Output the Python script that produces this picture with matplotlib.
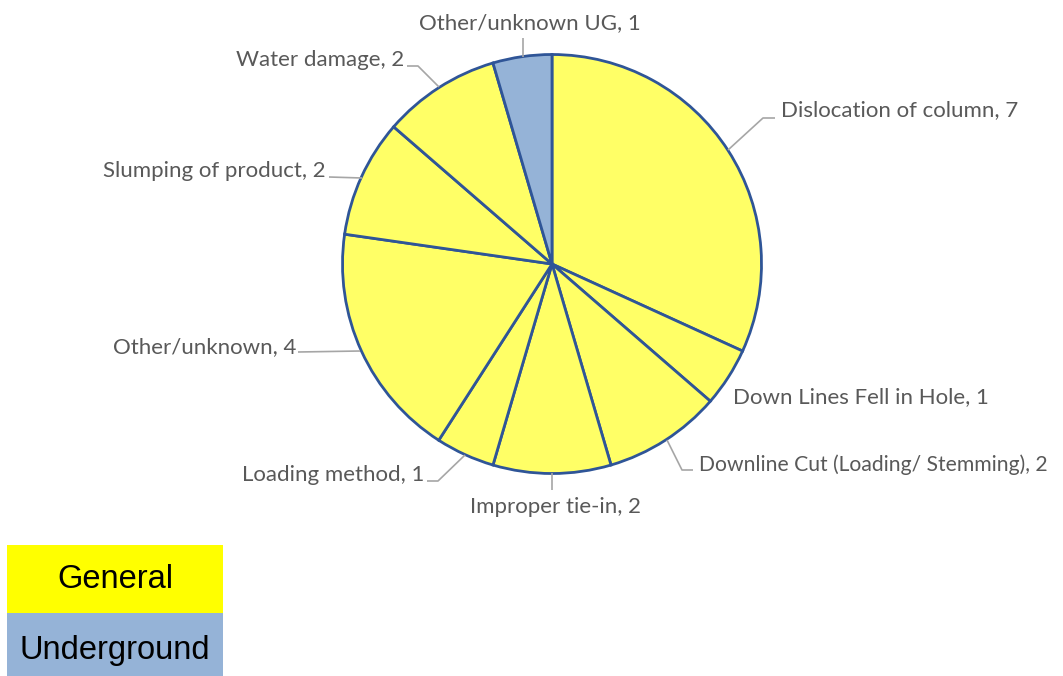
import matplotlib
matplotlib.use("Agg")
import matplotlib.pyplot as plt
from matplotlib.patches import Rectangle

# ---- data ----
categories = ["Dislocation of column", "Down Lines Fell in Hole",
              "Downline Cut (Loading/ Stemming)", "Improper tie-in",
              "Loading method", "Other/unknown", "Slumping of product",
              "Water damage", "Other/unknown UG"]
values = [7, 1, 2, 2, 1, 4, 2, 2, 1]
groups = ["General"] * 8 + ["Underground"]
legend_labels = ["General", "Underground"]

# ---- style ----
W, H = 1063, 676
pie_yellow = "#FFFF66"
ug_blue = "#95B3D7"
edge_blue = "#2F5597"
label_gray = "#595959"
leader_gray = "#A6A6A6"
group_colors = {"General": pie_yellow, "Underground": ug_blue}
legend_colors = {"General": "#FFFF00", "Underground": ug_blue}

fig = plt.figure(figsize=(W / 100, H / 100), dpi=100)
ax = fig.add_axes([0, 0, 1, 1])
ax.set_xlim(0, W)
ax.set_ylim(0, H)
ax.set_aspect("equal")
ax.axis("off")

def Y(py):
    return H - py

cx, cy, r = 552, 264, 209.5
ax.pie(values, colors=[group_colors[g] for g in groups], startangle=90,
       counterclock=False, center=(cx, Y(cy)), radius=r, frame=True,
       wedgeprops=dict(edgecolor=edge_blue, linewidth=2.0))
ax.set_xlim(0, W)
ax.set_ylim(0, H)
ax.axis("off")

# label placement (pixel coords): (x, y, ha, leader path, fontsize)
layout = [
    (781, 110, "left", [(728, 150), (763, 118), (775, 118)], 16),
    (733, 397, "left", None, 16),
    (699, 465, "left", [(667, 440), (682, 470), (693, 470)], 15.2),
    (555, 507, "center", [(552, 473), (552, 490)], 16),
    (424, 475, "right", [(465, 455), (438, 481), (427, 481)], 16),
    (296, 347, "right", [(360, 351), (298, 352)], 16),
    (326, 171, "right", [(362, 178), (329, 177)], 16),
    (404, 60, "right", [(439, 87), (418, 66), (407, 66)], 16),
    (530, 23, "center", [(523, 57), (523, 38)], 16),
]
fnt = ["Lato", "DejaVu Sans"]
for cat, v, (lx, ly, ha, path, fs) in zip(categories, values, layout):
    ax.text(lx, Y(ly), f"{cat}, {v}", ha=ha, va="center", fontsize=fs,
            color=label_gray, family=fnt)
    if path:
        ax.plot([p[0] for p in path], [Y(p[1]) for p in path],
                color=leader_gray, lw=1.2, solid_capstyle="butt")

# legend boxes: (x, y, w, h, text y)
boxes = [(7, 545, 216, 68, 580), (7, 613, 216, 63, 650)]
for lab, (bx, by, bw, bh, ty) in zip(legend_labels, boxes):
    ax.add_patch(Rectangle((bx, Y(by + bh)), bw, bh,
                           facecolor=legend_colors[lab], edgecolor="none"))
    ax.text(bx + bw / 2, Y(ty), lab, ha="center", va="center",
            fontsize=23.5, color="black", family=["Liberation Sans", "DejaVu Sans"])

fig.savefig("out.png", dpi=100)
